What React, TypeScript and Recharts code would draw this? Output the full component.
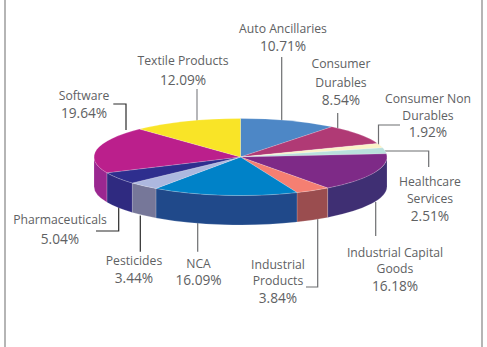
import React from "react";
import { PieChart, Pie, Cell } from "recharts";

const categories = [
  "Auto Ancillaries",
  "Consumer Durables",
  "Consumer Non Durables",
  "Healthcare Services",
  "Industrial Capital Goods",
  "Industrial Products",
  "NCA",
  "Pesticides",
  "Pharmaceuticals",
  "Software",
  "Textile Products",
];
const shares = [10.71, 8.54, 1.92, 2.51, 16.18, 3.84, 16.09, 3.44, 5.04, 19.64, 12.09];
const topColors = ["#4d87c6", "#b03a75", "#fbf2c8", "#b9e0dc", "#7e2a87", "#f57f72", "#0082c8", "#adb8df", "#2e2e8e", "#bb1f8c", "#f9e427"];
const sideColors = ["#3a6594", "#842c58", "#bcb596", "#8ba8a5", "#3f2f73", "#9a4d4f", "#20498a", "#767799", "#2f2a80", "#9a2790", "#bbab1d"];

// Wrapped label text, one entry per category.
const labelLines = [
  ["Auto Ancillaries"],
  ["Consumer", "Durables"],
  ["Consumer Non", "Durables"],
  ["Healthcare", "Services"],
  ["Industrial Capital", "Goods"],
  ["Industrial", "Products"],
  ["NCA"],
  ["Pesticides"],
  ["Pharmaceuticals"],
  ["Software"],
  ["Textile Products"],
];

// Label placement: centre x and the baseline of each line, value line last.
const labelAnchors = [
  { x: 283, ys: [33, 51] },
  { x: 341, ys: [67.5, 86.5, 105] },
  { x: 428, ys: [103, 120, 136.5] },
  { x: 430, ys: [185.5, 203, 221] },
  { x: 395, ys: [257, 273, 290.5] },
  { x: 278, ys: [269, 285, 303] },
  { x: 198.5, ys: [268, 285] },
  { x: 134, ys: [265, 283] },
  { x: 60, ys: [224, 244] },
  { x: 84, ys: [100, 118] },
  { x: 183, ys: [65, 85] },
];

// Leader paths running from each label to its slice.
const leaders = [
  { d: "M281.7 57V121", color: "#6d6e71" },
  { d: "M337.7 113V128", color: "#6d6e71" },
  { d: "M400 125H378.5V145", color: "#6d6e71" },
  { d: "M385 151H428.7V167", color: "#6d6e71" },
  { d: "M375.7 202V236", color: "#6d6e71" },
  { d: "M306 287H317.7V219", color: "#6d6e71" },
  { d: "M197.7 223V251.7", color: "#6d6e71" },
  { d: "M140.3 215.5V251.7", color: "#2b2b2b" },
  { d: "M96 231H118.7V189.5", color: "#2b2b2b" },
  { d: "M113.3 104H126V130", color: "#2b2b2b" },
  { d: "M197 89V121", color: "#85868a" },
];

const CX = 240.5;
const CY = 157;
const RADIUS = 146.5;
const TILT = 0.263;
const DEPTH = 29.5;

const rad = (deg: number) => (deg * Math.PI) / 180;
const rimX = (deg: number) => CX + RADIUS * Math.cos(rad(deg));
const rimY = (deg: number) => CY - RADIUS * TILT * Math.sin(rad(deg));

// One slice of the tilted disc: an elliptical top face plus the outer wall
// for whatever part of its arc faces the viewer.
function DiscSlice(props: any) {
  const hi = Math.max(props.startAngle, props.endAngle);
  const lo = Math.min(props.startAngle, props.endAngle);
  const rx = RADIUS;
  const ry = RADIUS * TILT;
  const big = hi - lo > 180 ? 1 : 0;
  const top = `M${CX} ${CY}L${rimX(hi)} ${rimY(hi)}A${rx} ${ry} 0 ${big} 1 ${rimX(lo)} ${rimY(lo)}Z`;
  const wallHi = Math.min(hi, 0);
  const wallLo = Math.max(lo, -180);
  const wallColor = props.side ?? props.payload?.side;
  return (
    <g>
      {wallHi > wallLo && (
        <path
          d={`M${rimX(wallHi)} ${rimY(wallHi)}A${rx} ${ry} 0 0 1 ${rimX(wallLo)} ${rimY(wallLo)}V${rimY(wallLo) + DEPTH}A${rx} ${ry} 0 0 0 ${rimX(wallHi)} ${rimY(wallHi) + DEPTH}Z`}
          fill={wallColor}
          stroke="#ffffff"
          strokeOpacity={0.35}
          strokeWidth={0.5}
        />
      )}
      <path d={top} fill={props.fill} stroke="#ffffff" strokeOpacity={0.35} strokeWidth={0.5} />
    </g>
  );
}

const slices = categories.map((name, i) => ({ name, value: shares[i], side: sideColors[i] }));

const textStyle = { fontFamily: "'Open Sans', sans-serif", fontSize: 12.2, fill: "#606163" };

export default function App() {
  return (
    <div style={{ position: "absolute", left: 0, top: 0, width: 487, height: 347, background: "#ffffff" }}>
      <PieChart width={487} height={347} margin={{ top: 0, right: 0, bottom: 0, left: 0 }}>
        <rect x={4} y={0} width={2} height={347} fill="#b5b5b5" />
        <rect x={481} y={0} width={2} height={347} fill="#b5b5b5" />
        <Pie
          data={slices}
          dataKey="value"
          nameKey="name"
          cx={CX}
          cy={CY}
          innerRadius={0}
          outerRadius={RADIUS}
          startAngle={90}
          endAngle={-270}
          paddingAngle={0}
          stroke="none"
          shape={DiscSlice}
          isAnimationActive={false}
        >
          {slices.map((s, i) => (
            <Cell key={s.name} fill={topColors[i]} />
          ))}
        </Pie>
        {leaders.map((l, i) => (
          <path key={i} d={l.d} fill="none" stroke={l.color} strokeWidth={1.2} />
        ))}
        {labelLines.map((lines, i) => {
          const a = labelAnchors[i];
          const valueRow = lines.length;
          const rows = [...lines, `${shares[i].toFixed(2)}%`];
          return (
            <text key={i} textAnchor="middle" style={textStyle}>
              {rows.map((row, r) => (
                <tspan key={r} x={a.x} y={a.ys[r]} fontSize={r === valueRow ? 13.7 : undefined} style={r === valueRow ? { fontSize: 13.7 } : undefined}>
                  {row}
                </tspan>
              ))}
            </text>
          );
        })}
      </PieChart>
    </div>
  );
}
